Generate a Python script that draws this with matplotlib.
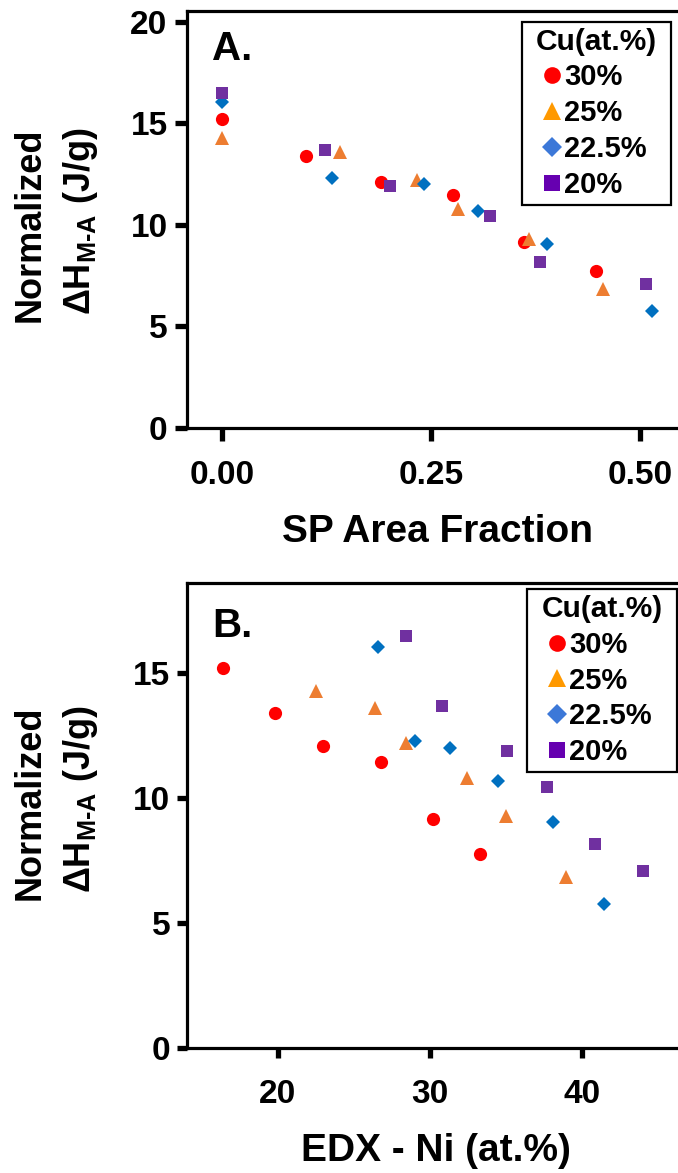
import matplotlib
matplotlib.use("Agg")
import matplotlib.pyplot as plt
from matplotlib.lines import Line2D

plt.rcParams["font.family"] = ["Liberation Sans", "DejaVu Sans"]
plt.rcParams["font.weight"] = "bold"
plt.rcParams["mathtext.fontset"] = "custom"
plt.rcParams["mathtext.rm"] = "Liberation Sans:bold"
plt.rcParams["mathtext.it"] = "Liberation Sans:bold"
plt.rcParams["mathtext.bf"] = "Liberation Sans:bold"

# ---- data -------------------------------------------------------------
cu_labels = ["30%", "25%", "22.5%", "20%"]

# normalized transformation enthalpy (J/g), same samples in both panels
dh_30 = [15.2, 13.4, 12.1, 11.45, 9.15, 7.75]
dh_25 = [14.3, 13.6, 12.2, 10.8, 9.3, 6.85]
dh_225 = [16.05, 12.3, 12.0, 10.7, 9.05, 5.75]
dh_20 = [16.5, 13.7, 11.9, 10.45, 8.15, 7.1]

# SP area fraction
sp_30 = [0.0, 0.101, 0.19, 0.276, 0.361, 0.448]
sp_25 = [0.0, 0.1415, 0.234, 0.282, 0.367, 0.456]
sp_225 = [0.0, 0.1315, 0.242, 0.306, 0.389, 0.515]
sp_20 = [0.0, 0.123, 0.201, 0.321, 0.381, 0.507]

# EDX Ni content (at.%)
ni_30 = [16.4, 19.8, 23.0, 26.8, 30.2, 33.3]
ni_25 = [22.5, 26.4, 28.4, 32.45, 35.0, 38.9]
ni_225 = [26.6, 29.0, 31.3, 34.45, 38.1, 41.4]
ni_20 = [28.4, 30.8, 35.05, 37.65, 40.8, 44.0]

xticks_a = [0.0, 0.25, 0.5]
xticklabels_a = ["0.00", "0.25", "0.50"]
yticks_a = [0, 5, 10, 15, 20]
xticks_b = [20, 30, 40]
yticks_b = [0, 5, 10, 15]

# ---- styles -----------------------------------------------------------
markers = ["o", "^", "D", "s"]
point_colors = ["#FF0000", "#ED7D31", "#0070C0", "#7030A0"]
legend_colors = ["#FF0000", "#FF9900", "#3C78D8", "#6600B0"]
point_sizes = [9.5, 10.5, 7.5, 9.0]
legend_sizes = [12, 13, 10.5, 11]

W, H = 678, 1173
fig = plt.figure(figsize=(W / 100, H / 100), dpi=100)


def px_box(left, top, right, bottom):
    return [left / W, 1 - bottom / H, (right - left) / W, (bottom - top) / H]


axA = fig.add_axes(px_box(187, 11, 690, 428))
axB = fig.add_axes(px_box(187, 583, 690, 1048))

sets_a = [(sp_30, dh_30), (sp_25, dh_25), (sp_225, dh_225), (sp_20, dh_20)]
sets_b = [(ni_30, dh_30), (ni_25, dh_25), (ni_225, dh_225), (ni_20, dh_20)]

for ax, sets in ((axA, sets_a), (axB, sets_b)):
    for (xs, ys), m, c, ms in zip(sets, markers, point_colors, point_sizes):
        ax.plot(xs, ys, linestyle="none", marker=m, color=c,
                markersize=ms, markeredgewidth=0)
    for side in ("top", "left", "bottom"):
        ax.spines[side].set_linewidth(2.3)
    ax.spines["right"].set_visible(False)
    ax.tick_params(direction="out", length=9, width=3.8, labelsize=24)
    ax.tick_params(axis="y", pad=5)

axA.set_xlim(-0.0415, 0.560)
axA.set_ylim(0, 20.53)
axA.set_xticks(xticks_a)
axA.set_xticklabels(xticklabels_a)
axA.set_yticks(yticks_a)
axA.tick_params(axis="x", pad=14)

axB.set_xlim(14.04, 47.07)
axB.set_ylim(0, 18.6)
axB.set_xticks(xticks_b)
axB.set_yticks(yticks_b)
axB.tick_params(axis="x", length=7, pad=15)
axB.tick_params(axis="y", length=7)

# axis titles
fig.text(438 / W, 1 - 542 / H, "SP Area Fraction", ha="center",
         va="baseline", fontsize=28)
fig.text(436 / W, 1 - 1161 / H, "EDX - Ni (at.%)", ha="center",
         va="baseline", fontsize=28)

for yc in (225, 803):
    fig.text(30 / W, 1 - yc / H, "Normalized", rotation=90, ha="center",
             va="center", fontsize=26)
    fig.text(80 / W, 1 - (yc - 4) / H, "ΔH$_{\\text{M-A}}$ (J/g)",
             rotation=90, ha="center", va="center", fontsize=26)

# panel letters
fig.text(212 / W, 1 - 60 / H, "A.", fontsize=29, va="baseline")
fig.text(212 / W, 1 - 637 / H, "B.", fontsize=29, va="baseline")

# legends
handles = [Line2D([], [], linestyle="none", marker=m, color=c,
                  markersize=s, markeredgewidth=0)
           for m, c, s in zip(markers, legend_colors, legend_sizes)]


def add_legend(ax, left, top, right, bottom):
    leg = ax.legend(handles, cu_labels, title="Cu(at.%)",
                    loc="upper left", mode="expand",
                    bbox_to_anchor=(left / W, 1 - bottom / H,
                                    (right - left) / W, (bottom - top) / H),
                    bbox_transform=fig.transFigure, borderaxespad=0,
                    fontsize=21, title_fontsize=21.5, handlelength=1.65,
                    handletextpad=-0.4, labelspacing=0.27, borderpad=0.2,
                    fancybox=False, framealpha=1, edgecolor="black")
    leg.get_frame().set_linewidth(1.6)
    leg.get_title().set_fontweight("bold")
    return leg


add_legend(axA, 521.7, 21.7, 670.7, 208)
add_legend(axB, 527, 589, 676.7, 776.7)

fig.savefig("out.png", dpi=100)
